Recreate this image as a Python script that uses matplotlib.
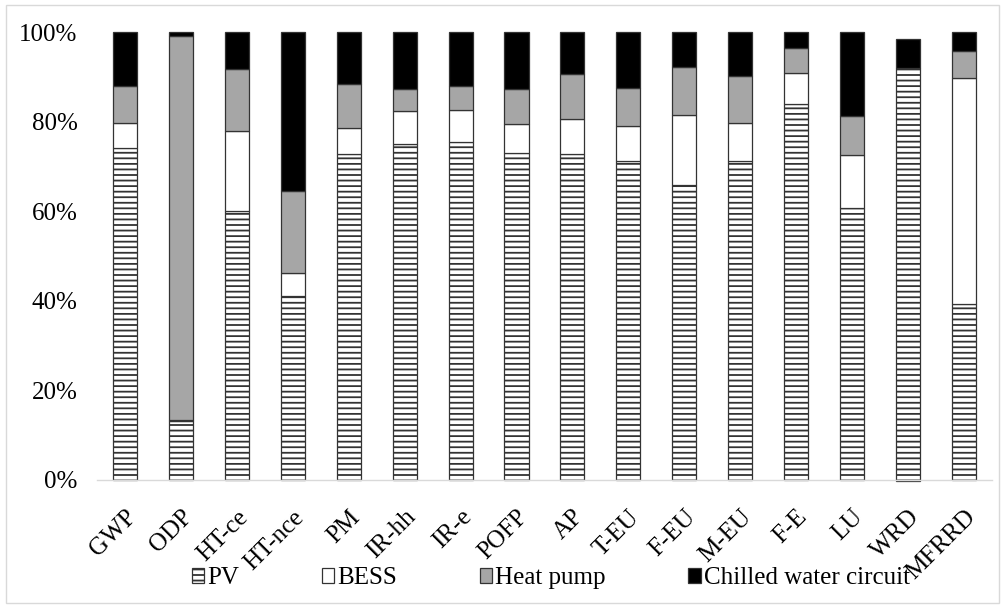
import numpy as np
import matplotlib
matplotlib.use("Agg")
import matplotlib.pyplot as plt
from matplotlib.patches import Rectangle

plt.rcParams['font.family'] = ['Liberation Serif', 'DejaVu Serif']
plt.rcParams['hatch.linewidth'] = 1.3

categories = ["GWP", "ODP", "HT-ce", "HT-nce", "PM", "IR-hh", "IR-e", "POFP",
              "AP", "T-EU", "F-EU", "M-EU", "F-E", "LU", "WRD", "MFRRD"]
pv       = [74.1, 13.0, 60.1, 41.0, 72.7, 75.0, 75.5, 73.1, 72.7, 71.2, 65.9, 71.2, 84.0, 60.8, 92.0, 39.3]
bess     = [5.7, 0.4, 17.8, 5.1, 5.8, 7.3, 7.1, 6.3, 8.0, 7.9, 15.6, 8.4, 6.8, 11.8, -0.4, 50.4]
heatpump = [8.1, 85.8, 13.8, 18.4, 10.0, 5.1, 5.3, 8.0, 9.9, 8.5, 10.8, 10.5, 5.6, 8.6, 0.0, 6.1]
chilled  = [12.1, 0.8, 8.3, 35.5, 11.5, 12.6, 12.1, 12.6, 9.4, 12.4, 7.7, 9.9, 3.6, 18.8, 6.5, 4.2]
series_names = ["PV", "BESS", "Heat pump", "Chilled water circuit"]

fig = plt.figure(figsize=(10.05, 6.07), dpi=100)
ax = fig.add_axes([0.0965, 0.21, 0.8905, 0.737])

x = np.arange(len(categories))
w = 0.43
edge = "#333333"
pos_base = np.zeros(len(categories))
neg_base = np.zeros(len(categories))
styles = [dict(facecolor="white", hatch="---"),
          dict(facecolor="white"),
          dict(facecolor="#A6A6A6"),
          dict(facecolor="black")]
handles = []
for vals, st, name in zip([pv, bess, heatpump, chilled], styles, series_names):
    v = np.array(vals) / 100.0
    base = np.where(v >= 0, pos_base, neg_base)
    bars = ax.bar(x, v, w, bottom=base, edgecolor=edge, linewidth=0.9,
                  label=name, clip_on=False, **st)
    pos_base = pos_base + np.where(v >= 0, v, 0)
    neg_base = neg_base + np.where(v < 0, v, 0)
    handles.append(bars)

ax.set_xlim(-0.5, len(categories) - 0.5)
ax.set_ylim(0, 1.0)
ticks = np.arange(0, 1.01, 0.2)
ax.set_yticks(ticks)
ax.set_yticklabels([f"{int(round(t*100))}%" for t in ticks], fontsize=18)
ax.set_xticks(x)
ax.set_xticklabels(categories, fontsize=18, rotation=45, ha="right",
                   rotation_mode="anchor")
ax.tick_params(axis="both", length=0)
ax.tick_params(axis="y", pad=14)
ax.tick_params(axis="x", pad=19)
for s in ["top", "right", "left"]:
    ax.spines[s].set_visible(False)
ax.spines["bottom"].set_color("#D9D9D9")
ax.spines["bottom"].set_linewidth(1.0)

leg = fig.legend(handles=handles, labels=series_names, loc="center",
                 bbox_to_anchor=(0.548, 0.047), ncol=4, frameon=False, fontsize=18,
                 handlelength=0.5, handleheight=0.5, handletextpad=0.12,
                 columnspacing=3.3)

# chart-area border
fig.add_artist(Rectangle((0.006, 0.006), 0.988, 0.985, transform=fig.transFigure,
                         fill=False, edgecolor="#D9D9D9", linewidth=1.0))

fig.savefig("out.png", dpi=100, facecolor="white")
